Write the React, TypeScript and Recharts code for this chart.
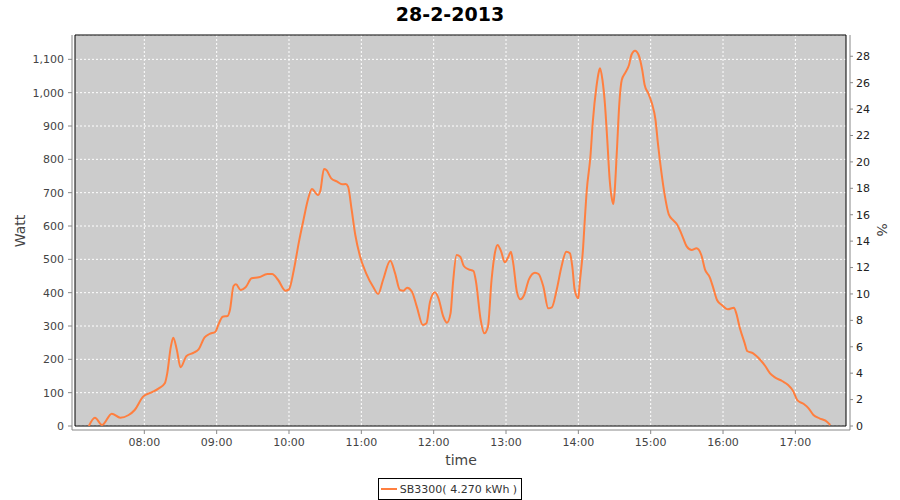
import React from 'react';
import {
  LineChart,
  Line,
  XAxis,
  YAxis,
  CartesianGrid,
  ReferenceArea,
  Legend,
} from 'recharts';

const TITLE = '28-2-2013';
const SERIES_NAME = 'SB3300( 4.270 kWh )';

const times = [
  '07:14', '07:19', '07:25', '07:33', '07:40', '07:47', '07:52', '07:59', '08:06', '08:12',
  '08:17', '08:19', '08:22', '08:24', '08:27', '08:30', '08:35', '08:41', '08:45', '08:50',
  '08:54', '08:59', '09:01', '09:05', '09:09', '09:11', '09:14', '09:16', '09:20', '09:24',
  '09:29', '09:35', '09:42', '09:46', '09:51', '09:57', '10:00', '10:04', '10:08', '10:12',
  '10:16', '10:19', '10:24', '10:26', '10:29', '10:31', '10:35', '10:40', '10:44', '10:47',
  '10:49', '10:52', '10:55', '10:59', '11:04', '11:10', '11:14', '11:18', '11:24', '11:28',
  '11:32', '11:35', '11:38', '11:42', '11:46', '11:51', '11:54', '11:57', '12:01', '12:04',
  '12:08', '12:11', '12:14', '12:16', '12:19', '12:22', '12:25', '12:29', '12:33', '12:35',
  '12:39', '12:42', '12:45', '12:48', '12:51', '12:53', '12:56', '12:59', '13:02', '13:04',
  '13:06', '13:09', '13:12', '13:15', '13:19', '13:24', '13:27', '13:31', '13:35', '13:38',
  '13:42', '13:46', '13:50', '13:53', '13:55', '13:57', '14:00', '14:01', '14:04', '14:05',
  '14:07', '14:10', '14:12', '14:15', '14:17', '14:18', '14:20', '14:22', '14:24', '14:26',
  '14:28', '14:29', '14:30', '14:32', '14:34', '14:36', '14:39', '14:42', '14:44', '14:47',
  '14:50', '14:53', '14:55', '14:58', '15:01', '15:04', '15:06', '15:09', '15:12', '15:15',
  '15:19', '15:22', '15:26', '15:30', '15:34', '15:38', '15:42', '15:45', '15:49', '15:52',
  '15:55', '15:59', '16:04', '16:09', '16:11', '16:14', '16:18', '16:20', '16:25', '16:31',
  '16:35', '16:39', '16:43', '16:49', '16:54', '16:58', '17:02', '17:07', '17:11', '17:15',
  '17:20', '17:25', '17:29',
];

const watts = [
  0, 25, 3, 37, 25, 33, 48, 88, 101, 113,
  128, 158, 238, 265, 228, 176, 210, 220, 230, 266,
  276, 283, 300, 328, 330, 348, 420, 425, 408, 416,
  443, 446, 456, 456, 438, 406, 410, 468, 548, 618,
  683, 711, 693, 706, 771, 768, 743, 733, 725, 726,
  718, 648, 573, 508, 458, 416, 396, 438, 496, 458,
  408, 406, 415, 403, 358, 303, 308, 373, 401, 383,
  328, 310, 338, 428, 513, 508, 480, 470, 465, 435,
  318, 278, 298, 438, 523, 543, 523, 491, 508, 523,
  488, 403, 380, 393, 440, 460, 456, 418, 353, 356,
  408, 478, 523, 518, 478, 408, 383, 423, 538, 598,
  708, 808, 913, 1018, 1063, 1073, 1038, 968, 858, 738,
  678, 666, 698, 828, 968, 1038, 1060, 1083, 1113, 1126,
  1113, 1068, 1023, 998, 968, 918, 848, 758, 685, 635,
  616, 604, 572, 538, 528, 533, 513, 470, 446, 413,
  378, 363, 350, 355, 338, 293, 248, 225, 218, 198,
  180, 158, 146, 135, 123, 106, 76, 66, 53, 33,
  23, 16, 3,
];

const hourTicks = ['08:00', '09:00', '10:00', '11:00', '12:00', '13:00', '14:00', '15:00', '16:00', '17:00'];
const wattTicks = [0, 100, 200, 300, 400, 500, 600, 700, 800, 900, 1000, 1100];
const percentTicks = [0, 2, 4, 6, 8, 10, 12, 14, 16, 18, 20, 22, 24, 26, 28];

const X_DOMAIN: [number, number] = [422.5, 1062];
const WATT_DOMAIN: [number, number] = [0, 1173];
const PERCENT_DOMAIN: [number, number] = [0, 29.61];

const toMin = (s: string) => {
  const [h, m] = s.split(':').map(Number);
  return h * 60 + m;
};
const fmtTime = (v: number) => {
  const h = Math.floor(v / 60);
  const m = Math.round(v - h * 60);
  return `${String(h).padStart(2, '0')}:${String(m).padStart(2, '0')}`;
};

const data = times.map((t, i) => ({ t: toMin(t), w: watts[i] }));

const FONT = "'DejaVu Sans', Verdana, sans-serif";
const LINE_COLOR = '#ff7f3f';

const LegendBox = (props: any) => {
  const item = props.payload && props.payload[0];
  return (
    <div style={{ display: 'flex', justifyContent: 'center', height: 22 }}>
      <div
        style={{
          border: '1px solid #000',
          height: 20,
          display: 'flex',
          alignItems: 'center',
          padding: '0 4px 0 2px',
          fontSize: 11,
          color: '#333',
          fontFamily: FONT,
          background: '#fff',
        }}
      >
        <svg width={16} height={4} style={{ display: 'block' }}>
          <line x1={0} y1={2} x2={16} y2={2} stroke={LINE_COLOR} strokeWidth={2} />
        </svg>
        <span style={{ marginLeft: 3, whiteSpace: 'nowrap' }}>{item ? item.value : SERIES_NAME}</span>
      </div>
    </div>
  );
};

export default function App() {
  return (
    <div style={{ position: 'absolute', left: 0, top: 0, width: 900, height: 500, fontFamily: FONT }}>
      <div
        style={{
          position: 'absolute',
          left: 0,
          top: 1,
          width: 900,
          textAlign: 'center',
          fontSize: 19,
          fontWeight: 'bold',
          color: '#000',
          fontFamily: FONT,
          lineHeight: '26px',
        }}
      >
        {TITLE}
      </div>
      <LineChart
        width={900}
        height={500}
        data={data}
        margin={{ top: 35, right: 0, bottom: 0, left: 0 }}
        style={{ fontFamily: FONT }}
      >
        <ReferenceArea
          yAxisId="left"
          x1={X_DOMAIN[0]}
          x2={X_DOMAIN[1]}
          y1={WATT_DOMAIN[0]}
          y2={WATT_DOMAIN[1]}
          fill="#cccccc"
          fillOpacity={1}
          stroke="none"
          zIndex={-200}
        />
        <CartesianGrid
          yAxisId="left"
          stroke="#ffffff"
          strokeDasharray="2 2"
          fill="none"
        />
        <ReferenceArea
          yAxisId="left"
          x1={X_DOMAIN[0]}
          x2={X_DOMAIN[1]}
          y1={WATT_DOMAIN[0]}
          y2={WATT_DOMAIN[1]}
          fill="none"
          stroke="#000"
          strokeWidth={1}
          zIndex={-50}
        />
        <XAxis
          dataKey="t"
          type="number"
          domain={X_DOMAIN}
          ticks={hourTicks.map(toMin)}
          tickFormatter={fmtTime}
          allowDataOverflow
          padding={{ left: 3, right: 4 }}
          height={48}
          tickSize={4}
          tickMargin={4}
          axisLine={{ stroke: '#888' }}
          tickLine={{ stroke: '#888' }}
          tick={{ fontSize: 11, fill: '#444', fontFamily: FONT }}
          label={{
            content: (p: any) => {
              const vb = p.viewBox || { x: 72, y: 430, width: 778 };
              return (
                <text
                  x={vb.x + vb.width / 2}
                  y={vb.y + 35}
                  textAnchor="middle"
                  fontSize={14}
                  fill="#444"
                  fontFamily={FONT}
                >
                  time
                </text>
              );
            },
          }}
        />
        <YAxis
          yAxisId="left"
          type="number"
          domain={WATT_DOMAIN}
          ticks={wattTicks}
          allowDataOverflow
          tickFormatter={(v: number) => v.toLocaleString('en-US')}
          padding={{ top: 0, bottom: 4 }}
          width={72}
          tickSize={4}
          tickMargin={4}
          axisLine={{ stroke: '#888' }}
          tickLine={{ stroke: '#888' }}
          tick={{ fontSize: 11, fill: '#444', fontFamily: FONT }}
          label={{
            content: (p: any) => {
              const vb = p.viewBox || { x: 0, y: 35, width: 72, height: 395 };
              const cx = vb.x + 25;
              const cy = vb.y + 196;
              return (
                <text
                  x={cx}
                  y={cy}
                  transform={`rotate(-90, ${cx}, ${cy})`}
                  textAnchor="middle"
                  fontSize={14}
                  fill="#444"
                  fontFamily={FONT}
                >
                  Watt
                </text>
              );
            },
          }}
        />
        <YAxis
          yAxisId="right"
          orientation="right"
          type="number"
          domain={PERCENT_DOMAIN}
          ticks={percentTicks}
          allowDataOverflow
          padding={{ top: 0, bottom: 4 }}
          width={50}
          tickSize={3}
          tickMargin={3}
          axisLine={{ stroke: '#888' }}
          tickLine={{ stroke: '#888' }}
          tick={{ fontSize: 11, fill: '#222', fontFamily: FONT, textAnchor: 'start' }}
          label={{
            content: (p: any) => {
              const vb = p.viewBox || { x: 850, y: 35, width: 50, height: 395 };
              const cx = vb.x + 27;
              const cy = vb.y + 195;
              return (
                <text
                  x={cx}
                  y={cy}
                  transform={`rotate(90, ${cx}, ${cy})`}
                  textAnchor="middle"
                  fontSize={14}
                  fill="#444"
                  fontFamily={FONT}
                >
                  %
                </text>
              );
            },
          }}
        />
        <Legend verticalAlign="bottom" content={<LegendBox />} />
        <Line
          yAxisId="left"
          type="monotone"
          dataKey="w"
          name={SERIES_NAME}
          stroke={LINE_COLOR}
          strokeWidth={2}
          dot={false}
          activeDot={false}
          isAnimationActive={false}
        />
      </LineChart>
    </div>
  );
}
